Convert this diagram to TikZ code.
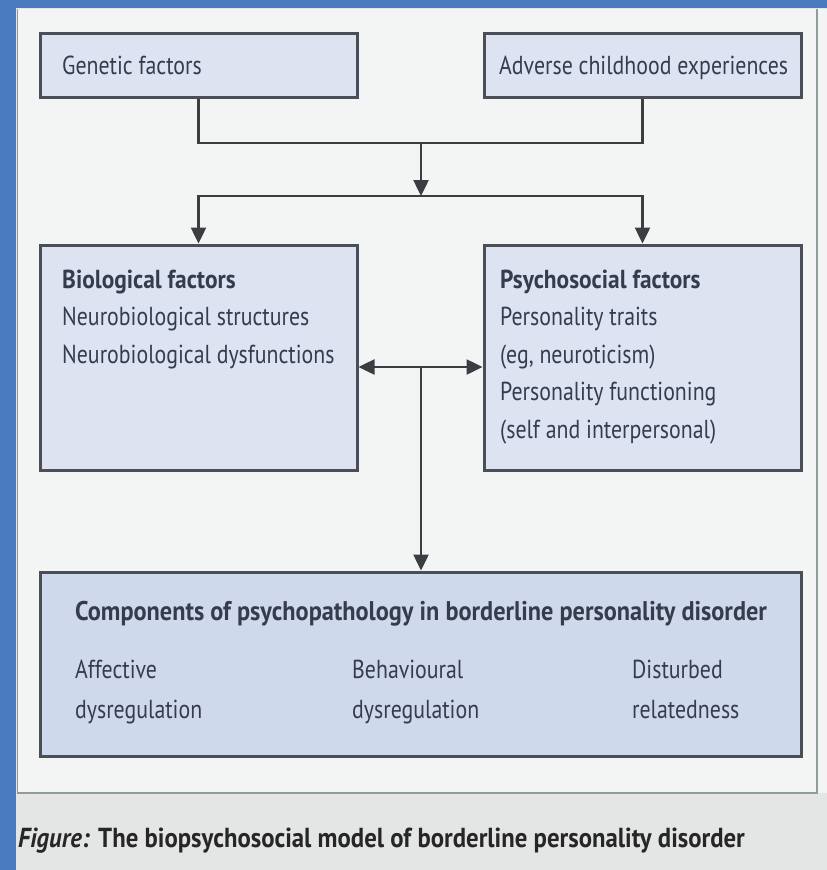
\documentclass[tikz,border=0pt]{standalone}
\usepackage{fontspec}
\setmainfont{PT Sans}[FakeStretch=0.84, BoldFeatures={FakeStretch=0.9}, BoldItalicFeatures={FakeStretch=0.9}]
\usetikzlibrary{arrows.meta,calc}
\definecolor{outerblue}{HTML}{4A7BBF}
\definecolor{panelbg}{HTML}{F3F4F4}
\definecolor{panelline}{HTML}{8E9C9A}
\definecolor{capbg}{HTML}{E4E5E5}
\definecolor{boxfill}{HTML}{DDE3F0}
\definecolor{boxfilltwo}{HTML}{CFD9EC}
\definecolor{boxline}{HTML}{4A4F57}
\definecolor{txtcol}{HTML}{343D4E}
\definecolor{conncol}{HTML}{3A3D42}
\tikzset{
  box/.style={draw=boxline, line width=3pt, fill=boxfill, inner sep=0pt},
  txt/.style={text=txtcol, align=left, inner sep=0pt, font=\fontsize{26}{37.5}\selectfont},
  conn/.style={draw=conncol, line width=2.5pt},
  tip/.style={-{Triangle[length=16pt,width=15pt]}},
  twotip/.style={{Triangle[length=16pt,width=15pt]}-{Triangle[length=16pt,width=15pt]}}
}
\begin{document}
\begin{tikzpicture}[x=1pt,y=-1pt]
\useasboundingbox (0,0) rectangle (827,870);
% background
\fill[capbg] (0,0) rectangle (827,870);
\fill[panelbg] (17,9) rectangle (827,793);
\draw[panelline, line width=1.2pt] (17.5,9) -- (17.5,793) -- (817,793) -- (817,9);
\fill[outerblue] (0,0) rectangle (827,8);
\fill[outerblue] (0,0) rectangle (16,870);
% boxes
\node[box, minimum width=317pt, minimum height=64pt] (gen) at (198.5,65) {};
\node[box, minimum width=317pt, minimum height=64pt] (adv) at (642.5,65) {};
\node[box, minimum width=317pt, minimum height=225pt] (bio) at (198.5,357.5) {};
\node[box, minimum width=317pt, minimum height=225pt] (psy) at (642.5,357.5) {};
\node[box, fill=boxfilltwo, minimum width=761pt, minimum height=184pt] (comp) at (420.5,664) {};
% texts (base anchor = baseline of last line)
\node[txt, anchor=base west] (gentxt) at (62,74) {Genetic factors};
\node[txt, anchor=base west] (advtxt) at (499,74) {Adverse childhood experiences};
\node[txt, anchor=base west] (biotxt) at (62,363) {\textbf{Biological factors}\\Neurobiological structures\\Neurobiological dysfunctions};
\node[txt, anchor=base west] (psytxt) at (500,438) {\textbf{Psychosocial factors}\\Personality traits\\(eg, neuroticism)\\Personality functioning\\(self and interpersonal)};
\node[txt, anchor=base west, font=\fontsize{27}{30}\selectfont] (comptxt) at (75,620) {\textbf{Components of psychopathology in borderline personality disorder}};
\node[txt, anchor=base west, font=\fontsize{26}{39.5}\selectfont] (afftxt) at (75,718) {Affective\\dysregulation};
\node[txt, anchor=base west, font=\fontsize{26}{39.5}\selectfont] (behtxt) at (352,718) {Behavioural\\dysregulation};
\node[txt, anchor=base west, font=\fontsize{26}{39.5}\selectfont] (distxt) at (632,718) {Disturbed\\relatedness};
% connectors
\coordinate (j1) at (421,143);
\coordinate (j2) at (421,196);
\coordinate (j3) at (421,367);
\draw[conn] (gen.south) |- (j1) -| (adv.south);
\draw[conn, tip] (j1) -- (j2);
\draw[conn, tip] (j2) -| (bio.north);
\draw[conn, tip] (j2) -| (psy.north);
\draw[conn, twotip] (bio.east |- j3) -- (psy.west |- j3);
\draw[conn, tip] (j3) -- (comp.north -| j3);
% caption
\node[anchor=base west, inner sep=0pt, text=black!85, font=\fontsize{27.5}{30}\selectfont\bfseries] (cap) at (18,847) {\textit{Figure:} The biopsychosocial model of borderline personality disorder};
\end{tikzpicture}
\end{document}
